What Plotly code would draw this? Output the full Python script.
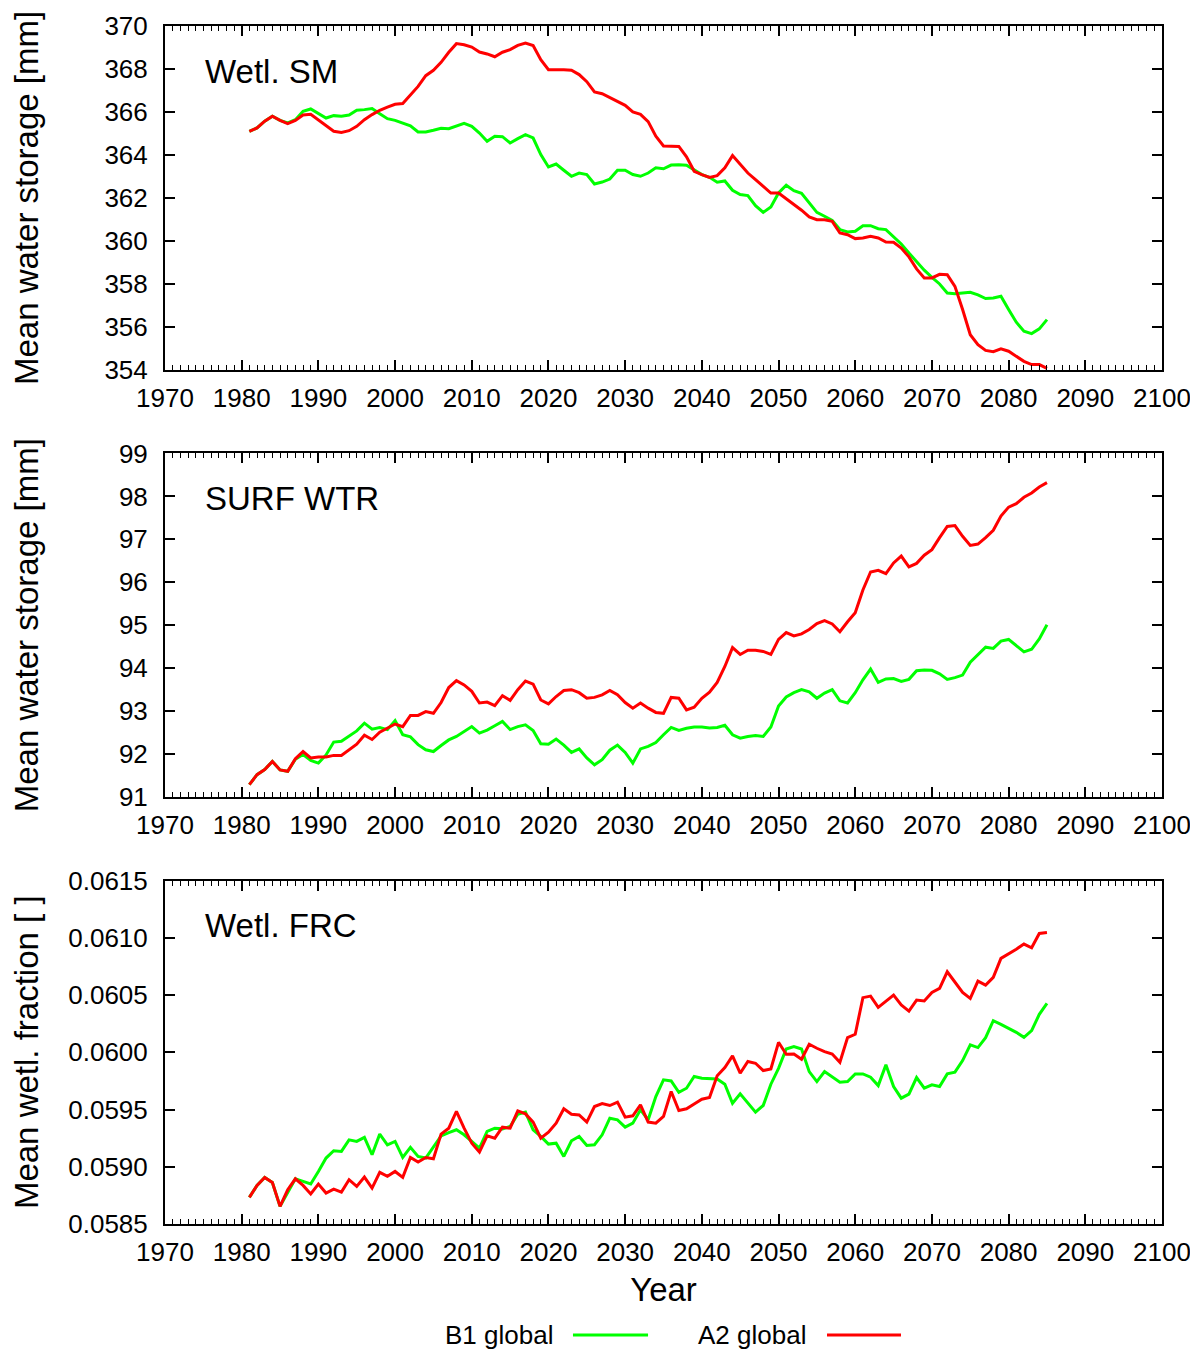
import plotly.graph_objects as go

years = list(range(1981, 2086))

sm_b1 = [365.10, 365.26, 365.57, 365.80, 365.61, 365.49, 365.64, 366.03, 366.14, 365.91,
         365.72, 365.83, 365.80, 365.86, 366.08, 366.11, 366.16, 365.92, 365.69, 365.61,
         365.47, 365.36, 365.07, 365.07, 365.15, 365.24, 365.22, 365.33, 365.47, 365.33,
         365.02, 364.64, 364.87, 364.85, 364.56, 364.76, 364.95, 364.79, 364.02, 363.44,
         363.58, 363.29, 363.01, 363.16, 363.09, 362.65, 362.74, 362.88, 363.29, 363.29,
         363.09, 363.01, 363.16, 363.40, 363.36, 363.53, 363.55, 363.52, 363.29, 363.09,
         362.96, 362.73, 362.79, 362.36, 362.16, 362.11, 361.64, 361.33, 361.58, 362.23,
         362.59, 362.34, 362.22, 361.80, 361.33, 361.15, 360.95, 360.53, 360.42, 360.45,
         360.71, 360.71, 360.57, 360.53, 360.19, 359.86, 359.44, 359.05, 358.64, 358.31,
         358.00, 357.58, 357.55, 357.58, 357.61, 357.49, 357.32, 357.35, 357.43, 356.81,
         356.22, 355.80, 355.69, 355.91, 356.34]

sm_a2 = [365.10, 365.26, 365.57, 365.80, 365.61, 365.46, 365.61, 365.86, 365.89, 365.64,
         365.36, 365.10, 365.05, 365.13, 365.33, 365.64, 365.88, 366.08, 366.23, 366.36,
         366.39, 366.81, 367.19, 367.69, 367.94, 368.31, 368.78, 369.18, 369.13, 369.02,
         368.79, 368.70, 368.57, 368.78, 368.90, 369.10, 369.21, 369.09, 368.43, 367.97,
         367.98, 367.97, 367.94, 367.74, 367.41, 366.93, 366.85, 366.68, 366.50, 366.31,
         366.00, 365.89, 365.55, 364.87, 364.42, 364.42, 364.40, 363.91, 363.24, 363.09,
         362.96, 363.04, 363.40, 363.97, 363.58, 363.16, 362.85, 362.54, 362.23, 362.23,
         361.97, 361.67, 361.43, 361.12, 360.99, 360.99, 360.91, 360.37, 360.29, 360.11,
         360.14, 360.22, 360.14, 359.95, 359.94, 359.67, 359.26, 358.70, 358.28, 358.28,
         358.45, 358.43, 357.89, 356.81, 355.64, 355.18, 354.91, 354.85, 354.98, 354.87,
         354.64, 354.40, 354.25, 354.25, 354.07]

surf_b1 = [91.29, 91.52, 91.64, 91.83, 91.63, 91.60, 91.88, 91.99, 91.85, 91.79,
           91.98, 92.28, 92.30, 92.41, 92.54, 92.72, 92.58, 92.62, 92.57, 92.78,
           92.45, 92.40, 92.22, 92.10, 92.06, 92.20, 92.33, 92.41, 92.53, 92.64,
           92.49, 92.56, 92.66, 92.76, 92.57, 92.64, 92.68, 92.55, 92.24, 92.23,
           92.35, 92.21, 92.04, 92.12, 91.91, 91.75, 91.87, 92.09, 92.21, 92.04,
           91.79, 92.12, 92.18, 92.27, 92.45, 92.62, 92.55, 92.60, 92.63, 92.63,
           92.61, 92.62, 92.67, 92.45, 92.37, 92.41, 92.43, 92.41, 92.63, 93.12,
           93.33, 93.43, 93.50, 93.45, 93.30, 93.42, 93.50, 93.24, 93.19, 93.43,
           93.73, 93.98, 93.67, 93.75, 93.76, 93.69, 93.74, 93.94, 93.96, 93.95,
           93.87, 93.74, 93.78, 93.84, 94.14, 94.31, 94.49, 94.46, 94.63, 94.67,
           94.52, 94.38, 94.44, 94.68, 95.01]

surf_a2 = [91.29, 91.52, 91.64, 91.83, 91.63, 91.60, 91.89, 92.06, 91.91, 91.93,
           91.93, 91.97, 91.97, 92.09, 92.23, 92.44, 92.34, 92.51, 92.60, 92.70,
           92.64, 92.90, 92.90, 92.99, 92.95, 93.20, 93.55, 93.71, 93.61, 93.46,
           93.19, 93.21, 93.13, 93.36, 93.25, 93.50, 93.70, 93.63, 93.26, 93.17,
           93.34, 93.48, 93.50, 93.43, 93.30, 93.32, 93.38, 93.48, 93.38, 93.20,
           93.07, 93.19, 93.07, 92.97, 92.95, 93.32, 93.30, 93.03, 93.09, 93.30,
           93.44, 93.67, 94.04, 94.48, 94.32, 94.42, 94.42, 94.39, 94.32, 94.67,
           94.83, 94.75, 94.80, 94.90, 95.04, 95.11, 95.03, 94.85, 95.08, 95.29,
           95.82, 96.24, 96.28, 96.20, 96.45, 96.61, 96.36, 96.44, 96.63, 96.76,
           97.04, 97.30, 97.32, 97.07, 96.86, 96.89, 97.04, 97.21, 97.54, 97.75,
           97.83, 97.98, 98.08, 98.22, 98.32]

frc_b1 = [0.058733, 0.058837, 0.058907, 0.058863, 0.058654, 0.058770, 0.058895, 0.058872, 0.058849, 0.058959,
          0.059076, 0.059140, 0.059134, 0.059235, 0.059221, 0.059256, 0.059105, 0.059285, 0.059192, 0.059221,
          0.059081, 0.059169, 0.059090, 0.059076, 0.059177, 0.059270, 0.059299, 0.059323, 0.059279, 0.059221,
          0.059163, 0.059308, 0.059337, 0.059331, 0.059352, 0.059459, 0.059477, 0.059323, 0.059265, 0.059198,
          0.059206, 0.059090, 0.059227, 0.059265, 0.059186, 0.059192, 0.059279, 0.059424, 0.059410, 0.059346,
          0.059381, 0.059497, 0.059410, 0.059613, 0.059759, 0.059750, 0.059651, 0.059686, 0.059788, 0.059773,
          0.059767, 0.059767, 0.059721, 0.059555, 0.059637, 0.059561, 0.059477, 0.059535, 0.059721, 0.059860,
          0.060029, 0.060049, 0.060029, 0.059831, 0.059744, 0.059831, 0.059788, 0.059738, 0.059744, 0.059811,
          0.059811, 0.059782, 0.059709, 0.059890, 0.059701, 0.059599, 0.059634, 0.059779, 0.059686, 0.059715,
          0.059701, 0.059811, 0.059826, 0.059927, 0.060064, 0.060041, 0.060128, 0.060276, 0.060244, 0.060209,
          0.060174, 0.060131, 0.060189, 0.060331, 0.060427]

frc_a2 = [0.058733, 0.058837, 0.058907, 0.058863, 0.058654, 0.058799, 0.058895, 0.058837, 0.058762, 0.058849,
          0.058770, 0.058805, 0.058779, 0.058887, 0.058828, 0.058910, 0.058814, 0.058951, 0.058916, 0.058959,
          0.058907, 0.059081, 0.059041, 0.059081, 0.059070, 0.059285, 0.059337, 0.059483, 0.059337, 0.059206,
          0.059128, 0.059270, 0.059250, 0.059346, 0.059337, 0.059488, 0.059462, 0.059390, 0.059250, 0.059302,
          0.059381, 0.059506, 0.059459, 0.059453, 0.059390, 0.059526, 0.059552, 0.059535, 0.059564, 0.059433,
          0.059445, 0.059541, 0.059390, 0.059381, 0.059439, 0.059657, 0.059491, 0.059506, 0.059549, 0.059590,
          0.059605, 0.059794, 0.059866, 0.059968, 0.059817, 0.059919, 0.059904, 0.059840, 0.059855, 0.060087,
          0.059983, 0.059985, 0.059939, 0.060070, 0.060035, 0.060006, 0.059985, 0.059913, 0.060128, 0.060157,
          0.060477, 0.060491, 0.060392, 0.060442, 0.060500, 0.060413, 0.060360, 0.060456, 0.060448, 0.060523,
          0.060558, 0.060703, 0.060616, 0.060523, 0.060471, 0.060622, 0.060587, 0.060654, 0.060820, 0.060858,
          0.060900, 0.060945, 0.060913, 0.061038, 0.061047]

series_names = ["B1 global", "A2 global"]
series_colors = ["#00ff00", "#ff0000"]
panel_labels = ["Wetl. SM", "SURF WTR", "Wetl. FRC"]
y_titles = ["Mean water storage [mm]", "Mean water storage [mm]", "Mean wetl. fraction [ ]"]
y_ranges = [[354, 370], [91, 99], [0.0585, 0.0615]]
y_dticks = [2, 1, 0.0005]
y_formats = ["d", "d", ".4f"]
x_title = "Year"
panels = [(sm_b1, sm_a2), (surf_b1, surf_a2), (frc_b1, frc_a2)]

FONT = "Liberation Sans, Arial, sans-serif"
domains = [[0.7129, 1.0], [0.3564, 0.6432], [0.0, 0.2867]]
standoffs = [60, 74, 26]

fig = go.Figure()
for i, (b1, a2) in enumerate(panels):
    xa = "x" if i == 0 else f"x{i+1}"
    ya = "y" if i == 0 else f"y{i+1}"
    for vals, name, col in zip((b1, a2), series_names, series_colors):
        fig.add_trace(go.Scatter(x=years, y=vals, mode="lines", name=name,
                                 line=dict(color=col, width=3), xaxis=xa, yaxis=ya,
                                 showlegend=False))

# the page body adds an 8px margin, so the figure is 8px smaller than the window
layout = dict(width=1190, height=1344, paper_bgcolor="white", plot_bgcolor="white",
              margin=dict(l=157, r=36, t=18, b=128, autoexpand=False),
              font=dict(family=FONT, color="black"), showlegend=False)

for i in range(3):
    xk = "xaxis" if i == 0 else f"xaxis{i+1}"
    yk = "yaxis" if i == 0 else f"yaxis{i+1}"
    ya = "y" if i == 0 else f"y{i+1}"
    xa = "x" if i == 0 else f"x{i+1}"
    xaxis = dict(domain=[0, 1], anchor=ya, range=[1970, 2100], tick0=1970, dtick=10,
                 ticks="inside", ticklen=10, tickwidth=1.5, tickcolor="black",
                 showline=True, linecolor="black", linewidth=2, mirror="ticks",
                 showgrid=False, zeroline=False, tickfont=dict(size=26, family=FONT),
                 ticklabelstandoff=4, automargin=False,
                 minor=dict(dtick=1, ticks="inside", ticklen=5, tickwidth=1,
                            tickcolor="black", showgrid=False))
    if i == 2:
        xaxis["title"] = dict(text=x_title, font=dict(size=33, family=FONT), standoff=12)
    layout[xk] = xaxis
    layout[yk] = dict(domain=domains[i], anchor=xa, range=y_ranges[i], dtick=y_dticks[i],
                      tickformat=y_formats[i], ticks="inside", ticklen=10, tickwidth=1.5,
                      tickcolor="black", showline=True, linecolor="black", linewidth=2,
                      mirror="ticks", showgrid=False, zeroline=False, automargin=False,
                      tickfont=dict(size=26, family=FONT), ticklabelstandoff=10,
                      title=dict(text=y_titles[i], font=dict(size=33, family=FONT),
                                 standoff=standoffs[i]))

fig.update_layout(**layout)

for i in range(3):
    xa = "x" if i == 0 else f"x{i+1}"
    ya = "y" if i == 0 else f"y{i+1}"
    fig.add_annotation(text=panel_labels[i], xref=f"{xa} domain", yref=f"{ya} domain",
                       x=0.0384, y=0.868, xanchor="left", yanchor="middle", showarrow=False,
                       font=dict(size=33, family=FONT, color="black"))

# legend (text followed by line sample, as in the original)
leg_text_x = [0.3912, 0.6449]
leg_line_x = [(0.4092, 0.4845), (0.664, 0.7382)]
leg_y = -0.0927
for name, col, tx, (lx0, lx1) in zip(series_names, series_colors, leg_text_x, leg_line_x):
    fig.add_annotation(text=name, xref="paper", yref="paper", x=tx, y=leg_y,
                       xanchor="right", yanchor="middle", showarrow=False,
                       font=dict(size=26, family=FONT, color="black"))
    fig.add_shape(type="line", xref="paper", yref="paper", x0=lx0, x1=lx1, y0=leg_y, y1=leg_y,
                  line=dict(color=col, width=3))

fig.write_html("out.html")
